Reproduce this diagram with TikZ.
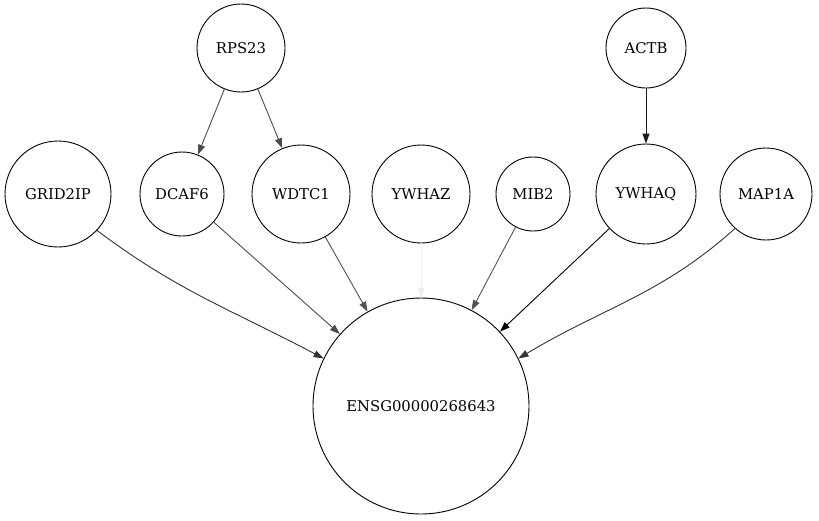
\documentclass[tikz,border=0pt]{standalone}
\usepackage{fontspec}
\setmainfont{DejaVu Serif}
\usepackage{xcolor}
\usetikzlibrary{arrows.meta}

\begin{document}
\begin{tikzpicture}[x=1pt, y=-1pt, thick,
        P node/.style={circle, draw, line width=0.9pt, inner sep=0pt,
            font=\fontsize{14.8}{17}\selectfont},
        P edge/.style={-{Triangle[length=10pt, width=7pt]}, line width=0.9pt}]

    \useasboundingbox (0,0) rectangle (819,520);

    \node[P node, minimum size=88pt] (RPS23) at (241,48) {RPS23};
    \node[P node, minimum size=80pt] (ACTB) at (646,48) {ACTB};
    \node[P node, minimum size=106pt] (GRID2IP) at (58,194) {GRID2IP};
    \node[P node, minimum size=84pt] (DCAF6) at (182,194) {DCAF6};
    \node[P node, minimum size=98pt] (WDTC1) at (301,194) {WDTC1};
    \node[P node, minimum size=98pt] (YWHAZ) at (421,194) {YWHAZ};
    \node[P node, minimum size=74pt] (MIB2) at (533,194) {MIB2};
    \node[P node, minimum size=100pt] (YWHAQ) at (646,194) {YWHAQ};
    \node[P node, minimum size=92pt] (MAP1A) at (766,194) {MAP1A};
    \node[P node, minimum size=216pt] (ENSG) at (421,406) {ENSG00000268643};

    \path[P edge]
    (RPS23) edge[black!70] (DCAF6)
    (RPS23) edge[black!70] (WDTC1)
    (ACTB) edge[black!90] (YWHAQ)
    (GRID2IP.-43) edge[black!80, out=-37, in=152] (ENSG.154)
    (DCAF6) edge[black!70] (ENSG)
    (WDTC1) edge[black!68] (ENSG)
    (YWHAZ) edge[black!7] (ENSG)
    (MIB2) edge[black!68] (ENSG)
    (YWHAQ) edge[black] (ENSG)
    (MAP1A.-132) edge[black!80, out=-138, in=31] (ENSG.26)
    ;
\end{tikzpicture}
\end{document}
